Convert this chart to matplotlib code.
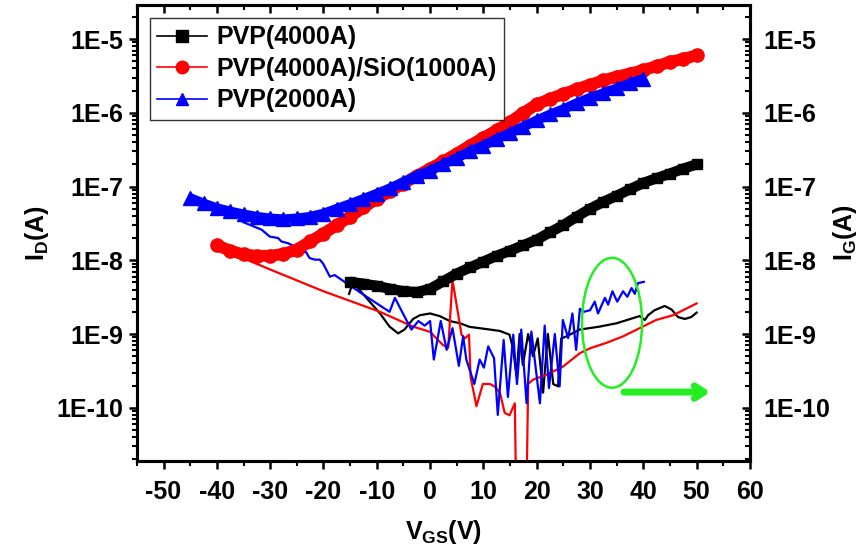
import numpy as np
import matplotlib
matplotlib.use("Agg")
import matplotlib.pyplot as plt
from matplotlib.lines import Line2D
from matplotlib.patches import Ellipse
from matplotlib.ticker import FixedLocator, MultipleLocator, LogLocator, FuncFormatter, NullFormatter

plt.rcParams['font.family'] = ['Liberation Sans', 'DejaVu Sans']
plt.rcParams['font.weight'] = 'bold'
plt.rcParams['axes.unicode_minus'] = False
plt.rcParams['mathtext.fontset'] = 'custom'
plt.rcParams['mathtext.rm'] = 'Liberation Sans:bold'
plt.rcParams['mathtext.bf'] = 'Liberation Sans:bold'
plt.rcParams['mathtext.it'] = 'Liberation Sans:bold'

# ---- drain current (thick marker curves) ----
vg_black = [-15, -12.5, -10, -7.5, -5, -2.5, 0, 2.5, 5, 7.5, 10, 12.5, 15, 17.5, 20, 22.5,
            25, 27.5, 30, 32.5, 35, 37.5, 40, 42.5, 45, 47.5, 50]
id_black = [5.1e-9, 4.8e-9, 4.5e-9, 4.1e-9, 3.8e-9, 3.7e-9, 4.1e-9, 5.2e-9, 6.6e-9, 8e-9,
            9.6e-9, 1.15e-8, 1.35e-8, 1.6e-8, 1.9e-8, 2.4e-8, 3.0e-8, 3.9e-8, 5.0e-8, 6.2e-8,
            7.5e-8, 9.2e-8, 1.12e-7, 1.3e-7, 1.5e-7, 1.75e-7, 2.0e-7]

vg_red = [-40, -37.5, -35, -32.5, -30, -27.5, -25, -22.5, -20, -17.5, -15, -12.5, -10, -7.5,
          -5, -2.5, 0, 2.5, 5, 7.5, 10, 12.5, 15, 17.5, 20, 22.5, 25, 27.5, 30, 32.5, 35,
          37.5, 40, 42.5, 45, 47.5, 50]
id_red = [1.6e-8, 1.35e-8, 1.2e-8, 1.15e-8, 1.15e-8, 1.22e-8, 1.4e-8, 1.8e-8, 2.3e-8, 3.0e-8,
          3.9e-8, 5.2e-8, 6.8e-8, 8.6e-8, 1.1e-7, 1.4e-7, 1.75e-7, 2.2e-7, 2.8e-7, 3.6e-7,
          4.6e-7, 5.8e-7, 7.5e-7, 1.0e-6, 1.3e-6, 1.55e-6, 1.8e-6, 2.1e-6, 2.4e-6, 2.75e-6,
          3.1e-6, 3.4e-6, 3.8e-6, 4.3e-6, 4.9e-6, 5.4e-6, 6.0e-6]

vg_blue = [-45, -42.5, -40, -37.5, -35, -32.5, -30, -27.5, -25, -22.5, -20, -17.5, -15, -12.5,
           -10, -7.5, -5, -2.5, 0, 2.5, 5, 7.5, 10, 12.5, 15, 17.5, 20, 22.5, 25, 27.5, 30,
           32.5, 35, 37.5, 40]
id_blue = [7.0e-8, 5.9e-8, 5.1e-8, 4.6e-8, 4.2e-8, 3.9e-8, 3.7e-8, 3.6e-8, 3.7e-8, 3.9e-8,
           4.3e-8, 5.0e-8, 5.8e-8, 6.8e-8, 8.0e-8, 9.5e-8, 1.15e-7, 1.4e-7, 1.65e-7, 2.0e-7,
           2.45e-7, 3.0e-7, 3.6e-7, 4.4e-7, 5.3e-7, 6.5e-7, 7.9e-7, 9.5e-7, 1.12e-6, 1.35e-6,
           1.6e-6, 1.85e-6, 2.15e-6, 2.5e-6, 2.9e-6]

# ---- gate leakage (thin lines) ----
vg_ig_black = [-15.2, -14.5, -12.6, -9.4, -7.6, -6.0, -4.8, -3.2, -1.9, 0, 1.8, 3.7, 5.6, 7.4,
               9.3, 11.2, 13.1, 14.9, 15.6, 16.2, 16.8, 17.4, 18.4, 19.3, 20.2, 21.2, 22.1,
               23.1, 24.0, 24.6, 25.6, 28.1, 31.8, 35.0, 39.3, 40.3, 40.9, 42.1, 44.0, 45.3,
               46.5, 47.8, 49.0, 50.0]
ig_black = [3.5e-9, 5.0e-9, 3.5e-9, 1.9e-9, 1.26e-9, 1.02e-9, 1.15e-9, 1.6e-9, 1.8e-9, 1.9e-9,
            1.75e-9, 1.5e-9, 1.4e-9, 1.25e-9, 1.2e-9, 1.15e-9, 1.1e-9, 9.8e-10, 6.2e-10,
            2.7e-10, 1.0e-9, 3.8e-10, 1.0e-9, 5.0e-10, 8.7e-10, 1.6e-10, 1.0e-9, 2.1e-10,
            1.95e-10, 8.7e-10, 9.3e-10, 1.15e-9, 1.26e-9, 1.4e-9, 1.75e-9, 1.55e-9, 1.8e-9,
            2.1e-9, 2.4e-9, 2.15e-9, 1.7e-9, 1.6e-9, 1.7e-9, 1.95e-9]

vg_ig_red = [-40, -30, -20, -9.4, -3.2, 0, 2.4, 3.4, 4.2, 5.9, 6.5, 7.3, 7.6, 8.7, 9.9, 11.2,
             12.1, 13.1, 14.0, 14.9, 15.9, 16.3, 17.9, 18.4, 19.3, 21.8, 24.9, 28.1, 30.0,
             33.1, 36.2, 39.3, 42.4, 45.6, 50.0]
ig_red = [1.5e-8, 7.5e-9, 3.8e-9, 2.0e-9, 1.26e-9, 1.07e-9, 7.1e-10, 6.5e-10, 5.4e-9, 9.8e-10,
          8.7e-10, 9.8e-10, 2.6e-10, 1.05e-10, 2.1e-10, 2.1e-10, 1.95e-10, 1.6e-10, 8.5e-11,
          7.9e-11, 1.15e-10, 1e-12, 1e-12, 2.1e-10, 2.4e-10, 2.8e-10, 3.6e-10, 5.5e-10, 6.4e-10,
          7.6e-10, 9.3e-10, 1.2e-9, 1.55e-9, 1.8e-9, 2.6e-9]

vg_ig_blue = [-35.1, -33.2, -31.6, -30.1, -28.5, -27.9, -26.6, -24.8, -24.1, -23.3, -22.6,
              -21.6, -20.7, -20.1, -18.8, -17.9, -15.7, -11.9, -7.6, -6.6, -5.1, -3.5, -2.2,
              -1.0, 0, 0.7, 2.0, 3.1, 4.2, 5.4, 6.2, 6.8, 8.3, 9.3, 10.1, 10.9, 12.0, 12.7,
              13.8, 14.6, 15.6, 16.3, 17.1, 18.1, 19.0, 20.6, 21.5, 22.3, 23.4, 24.3, 24.9,
              25.9, 26.7, 27.4, 28.1, 28.8, 30.0, 30.9, 31.5, 32.8, 33.4, 34.2, 35.1, 36.2,
              37.0, 37.8, 38.4, 39.0, 40.1]
ig_blue = [3.3e-8, 2.9e-8, 2.6e-8, 2.1e-8, 2.0e-8, 1.8e-8, 1.7e-8, 1.45e-8, 1.26e-8, 1.3e-8,
           1.07e-8, 1.02e-8, 1.02e-8, 9.1e-9, 6.0e-9, 6.3e-9, 4.9e-9, 3.2e-9, 2.0e-9, 3.1e-9,
           1.9e-9, 1.15e-9, 1.5e-9, 1.3e-9, 1.5e-9, 4.5e-10, 1.5e-9, 6.1e-10, 1.2e-9, 3.7e-10,
           9.3e-10, 4.5e-10, 2.1e-10, 4.5e-10, 3.5e-10, 6.8e-10, 4.7e-10, 8e-11, 8.3e-10,
           1.4e-10, 9.8e-10, 2.1e-10, 1.15e-9, 1.15e-10, 1.08e-9, 1.15e-10, 1.3e-9, 1.85e-10,
           1.0e-9, 1.95e-10, 1.55e-9, 8.8e-10, 1.9e-9, 6.1e-10, 2.2e-9, 2.0e-9, 2.1e-9,
           2.75e-9, 1.9e-9, 3.1e-9, 2.5e-9, 3.8e-9, 2.75e-9, 3.8e-9, 3.2e-9, 4.2e-9, 3.5e-9,
           4.9e-9, 5.1e-9]

labels = ['PVP(4000A)', 'PVP(4000A)/SiO(1000A)', 'PVP(2000A)']
colors = ['black', '#ff0000', '#0000ff']
markers = ['s', 'o', '^']

fig = plt.figure(figsize=(8.61, 5.56), dpi=100)
ax = fig.add_axes([0.159, 0.171, 0.712, 0.820])

# thin gate-current lines
ax.plot(vg_ig_black, ig_black, color=colors[0], lw=1.6, zorder=2)
ax.plot(vg_ig_red, ig_red, color=colors[1], lw=1.6, zorder=2)
ax.plot(vg_ig_blue, ig_blue, color=colors[2], lw=1.6, zorder=2)

# thick drain-current curves
ax.plot(vg_black, id_black, color=colors[0], lw=7.5, marker='s', ms=7.5,
        solid_capstyle='butt', zorder=3)
ax.plot(vg_red, id_red, color=colors[1], lw=8.5, marker='o', ms=9.5,
        solid_capstyle='round', zorder=3)
ax.plot(vg_blue, id_blue, color=colors[2], lw=7, marker='^', ms=9.5,
        solid_capstyle='butt', zorder=3)

ax.set_yscale('log')
ax.set_xlim(-55, 60)
ax.set_ylim(1.9e-11, 2.9e-5)

fmt = FuncFormatter(lambda v, _: "1E%d" % int(round(np.log10(v))))
ax.yaxis.set_major_locator(FixedLocator([1e-10, 1e-9, 1e-8, 1e-7, 1e-6, 1e-5]))
ax.yaxis.set_minor_locator(LogLocator(base=10, subs=np.arange(2, 10), numticks=20))
ax.yaxis.set_major_formatter(fmt)
ax.yaxis.set_minor_formatter(NullFormatter())
ax.xaxis.set_major_locator(MultipleLocator(10))
ax.xaxis.set_minor_locator(MultipleLocator(5))

for s in ax.spines.values():
    s.set_linewidth(2.2)

ax.tick_params(axis='both', which='major', labelsize=18, width=1.8, length=6, direction='out')
ax.tick_params(axis='both', which='minor', width=1.5, length=3.5, direction='out')
ax.tick_params(axis='x', top=True, which='both')
ax.tick_params(axis='x', pad=8)
ax.tick_params(axis='y', pad=4)

# top ticks drawn inward
for t in ax.xaxis.get_major_ticks() + ax.xaxis.get_minor_ticks():
    t.tick2line.set_marker(3)

ax2 = ax.twinx()
ax2.set_yscale('log')
ax2.set_ylim(ax.get_ylim())
ax2.yaxis.set_major_locator(FixedLocator([1e-10, 1e-9, 1e-8, 1e-7, 1e-6, 1e-5]))
ax2.yaxis.set_minor_locator(LogLocator(base=10, subs=np.arange(2, 10), numticks=20))
ax2.yaxis.set_major_formatter(fmt)
ax2.yaxis.set_minor_formatter(NullFormatter())
ax2.tick_params(axis='y', which='major', labelsize=18, width=1.8, length=6, direction='in', pad=10)
ax2.tick_params(axis='y', which='minor', width=1.5, length=3.5, direction='in')
for s in ax2.spines.values():
    s.set_linewidth(2.2)

ax.set_xlabel(r'$\mathbf{V_{GS}(V)}$', fontsize=18, labelpad=10)
ax.set_ylabel(r'$\mathbf{I_D(A)}$', fontsize=18, labelpad=4)
ax2.set_ylabel(r'$\mathbf{I_G(A)}$', fontsize=18, labelpad=0)

handles = [Line2D([], [], color=c, lw=1.2, marker=m, ms=9) for c, m in zip(colors, markers)]
leg = ax.legend(handles, labels, loc='upper left', bbox_to_anchor=(0.021, 0.972),
                borderaxespad=0, fontsize=18, frameon=True, fancybox=False,
                edgecolor='black', handlelength=2.0, handletextpad=0.35,
                labelspacing=0.3, borderpad=0.3)
leg.get_frame().set_linewidth(1.0)
leg.set_zorder(5)

# green annotation
ax.add_patch(Ellipse((0.775, 0.303), 0.098, 0.285, transform=ax.transAxes,
                     fill=False, edgecolor='#22ee22', lw=1.8, zorder=6))
ax.annotate('', xy=(0.94, 0.151), xytext=(0.79, 0.151), xycoords='axes fraction',
            arrowprops=dict(arrowstyle='->,head_length=0.7,head_width=0.45',
                            color='#22ee22', lw=5), zorder=6)

fig.savefig('out.png', dpi=100)
